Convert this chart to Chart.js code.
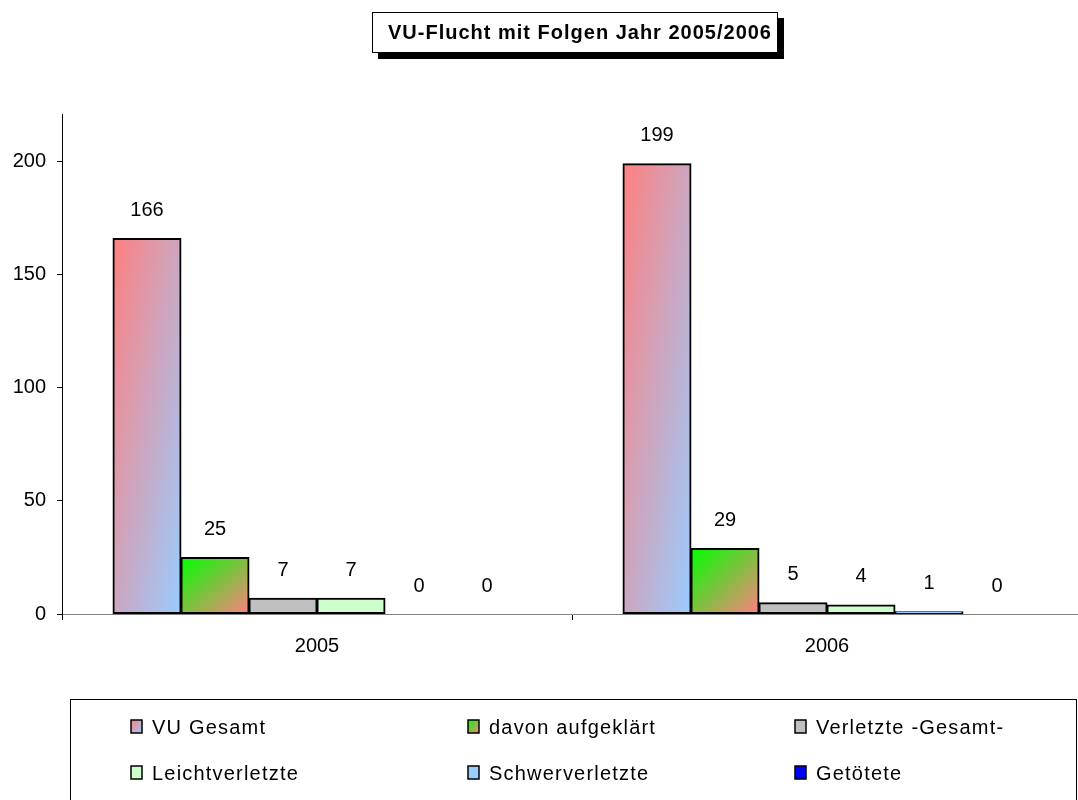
<!DOCTYPE html>
<html>
<head>
<meta charset="utf-8">
<script src="https://cdn.jsdelivr.net/npm/chart.js@4.4.1/dist/chart.umd.min.js"></script>
<style>
  html, body { margin: 0; padding: 0; background: #fff; overflow: hidden; width: 1078px; height: 800px; }
  #wrap { position: relative; width: 1090px; height: 800px; }
  canvas { display: block; }
</style>
</head>
<body>
<div id="wrap"><canvas id="c" width="1090" height="800"></canvas></div>
<script>
// Chart data
const chartTitle = 'VU-Flucht mit Folgen Jahr 2005/2006';
const years = ['2005', '2006'];
const seriesNames = ['VU Gesamt', 'davon aufgeklärt', 'Verletzte -Gesamt-', 'Leichtverletzte', 'Schwerverletzte', 'Getötete'];
const vuGesamt = [166, 199];
const davonAufgeklaert = [25, 29];
const verletzteGesamt = [7, 5];
const leichtverletzte = [7, 4];
const schwerverletzte = [0, 1];
const getoetete = [0, 0];
const yTickValues = [0, 50, 100, 150, 200];

const FONT = "'Liberation Sans', Arial, sans-serif";
Chart.defaults.font.family = FONT;
Chart.defaults.color = '#000';

// Linear gradient whose colour bands run parallel to the box's anti-diagonal
function diagGradient(ctx, x, y, w, h, c1, c2) {
  const d = (w * w + h * h) || 1;
  const k = 2 * w * h / d;
  const g = ctx.createLinearGradient(x, y, x + h * k, y + w * k);
  g.addColorStop(0, c1);
  g.addColorStop(1, c2);
  return g;
}

// Fill for a gradient bar, computed from the scales
function barGradient(c1, c2) {
  return (context) => {
    const chart = context.chart;
    if (context.type !== 'data' || !chart.chartArea) return c1;
    const xs = chart.scales.x, ys = chart.scales.y;
    const nSets = chart.data.datasets.length;
    const catW = xs.width / chart.data.labels.length;
    const groupW = catW * 0.8;
    const barW = groupW / nSets;
    const cx = xs.getPixelForValue(context.dataIndex);
    const left = cx - groupW / 2 + context.datasetIndex * barW;
    const top = ys.getPixelForValue(context.raw);
    const bottom = ys.getPixelForValue(0);
    return diagGradient(chart.ctx, left, top, barW, bottom - top, c1, c2);
  };
}

const seriesFills = [
  ['#FF8080', '#99CCFF'],
  ['#00FF00', '#FF8080'],
  '#C0C0C0',
  '#CCFFCC',
  '#99CCFF',
  '#0000FF'
];
const seriesValues = [vuGesamt, davonAufgeklaert, verletzteGesamt, leichtverletzte, schwerverletzte, getoetete];

const datasets = seriesNames.map((name, i) => {
  const f = seriesFills[i];
  return {
    label: name,
    data: seriesValues[i],
    backgroundColor: Array.isArray(f) ? barGradient(f[0], f[1]) : f,
    borderColor: '#000',
    borderWidth: 2,
    borderSkipped: false,
    inflateAmount: 0.5,
    categoryPercentage: 0.8,
    barPercentage: 1.0
  };
});

// Title box with drop shadow
const titlePlugin = {
  id: 'titleBox',
  afterDraw(chart) {
    const ctx = chart.ctx;
    const x = 372, y = 12, w = 406, h = 41;
    ctx.save();
    ctx.fillStyle = '#000';
    ctx.fillRect(x + 6, y + 6, w, h);
    ctx.fillStyle = '#fff';
    ctx.fillRect(x, y, w, h);
    ctx.strokeStyle = '#000';
    ctx.lineWidth = 1;
    ctx.strokeRect(x + 0.5, y + 0.5, w - 1, h - 1);
    ctx.fillStyle = '#000';
    ctx.font = 'bold 20px ' + FONT;
    ctx.letterSpacing = '1px';
    ctx.textAlign = 'center';
    ctx.textBaseline = 'middle';
    ctx.fillText(chartTitle, x + w / 2 + 5, y + h / 2 + 1);
    ctx.restore();
  }
};

// Value labels above each bar
const valueLabels = {
  id: 'valueLabels',
  afterDatasetsDraw(chart) {
    const ctx = chart.ctx;
    ctx.save();
    ctx.fillStyle = '#000';
    ctx.font = '20px ' + FONT;
    ctx.textAlign = 'center';
    ctx.textBaseline = 'middle';
    chart.data.datasets.forEach((ds, di) => {
      chart.getDatasetMeta(di).data.forEach((bar, i) => {
        ctx.fillText(String(ds.data[i]), bar.x, bar.y - 28);
      });
    });
    ctx.restore();
  }
};

// Boxed legend in a three-column grid
const gridLegend = {
  id: 'gridLegend',
  afterDraw(chart) {
    const ctx = chart.ctx;
    ctx.save();
    ctx.strokeStyle = '#000';
    ctx.lineWidth = 1;
    ctx.strokeRect(70.5, 699.5, 1006, 140);
    const colX = [152, 489, 816];
    const rowY = [727, 773];
    ctx.font = '20px ' + FONT;
    ctx.letterSpacing = '1.2px';
    ctx.textBaseline = 'middle';
    ctx.textAlign = 'left';
    chart.data.datasets.forEach((ds, i) => {
      const tx = colX[i % 3], ty = rowY[Math.floor(i / 3)];
      const sx = tx - 21, sy = ty - 7, sw = 11, sh = 13;
      const f = seriesFills[i];
      ctx.fillStyle = Array.isArray(f) ? diagGradient(ctx, sx, sy, sw, sh, f[0], f[1]) : f;
      ctx.fillRect(sx, sy, sw, sh);
      ctx.strokeStyle = '#000';
      ctx.lineWidth = 1.5;
      ctx.strokeRect(sx, sy, sw, sh);
      ctx.fillStyle = '#000';
      ctx.fillText(ds.label, tx, ty + 1);
    });
    ctx.restore();
  }
};

new Chart(document.getElementById('c'), {
  type: 'bar',
  data: { labels: years, datasets },
  options: {
    responsive: false,
    animation: false,
    devicePixelRatio: 1,
    layout: { padding: { top: 114, right: 8, left: 0, bottom: 0 } },
    plugins: {
      legend: { display: false },
      tooltip: { enabled: false },
      title: { display: false }
    },
    scales: {
      x: {
        offset: true,
        grid: { display: true, offset: true, drawOnChartArea: false, tickLength: 6, tickColor: '#000', tickWidth: 1 },
        border: { color: '#808080', width: 1 },
        ticks: { font: { size: 20 }, color: '#000', padding: 14 },
        afterFit(scale) { scale.height = 186; }
      },
      y: {
        min: 0,
        max: 221,
        afterBuildTicks(scale) { scale.ticks = yTickValues.map(v => ({ value: v })); },
        grid: { display: true, drawOnChartArea: false, tickLength: 5, tickColor: '#000', tickWidth: 1 },
        border: { color: '#000', width: 1 },
        ticks: { font: { size: 20 }, color: '#000', padding: 11 },
        afterFit(scale) { scale.width = 62; }
      }
    }
  },
  plugins: [titlePlugin, valueLabels, gridLegend]
});
</script>
</body>
</html>
